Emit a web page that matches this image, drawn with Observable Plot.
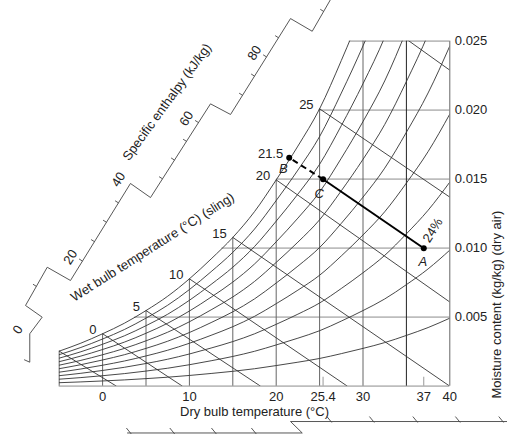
<!DOCTYPE html>
<html><head><meta charset="utf-8">
<script src="https://cdn.jsdelivr.net/npm/d3@7"></script>
<script src="https://cdn.jsdelivr.net/npm/@observablehq/plot@0.6"></script>
<style>body{margin:0;background:#fff;} svg{display:block}</style>
</head><body><div id="chart"></div>
<script>
// Saturation moisture content (kg/kg)
const satT = [-5,-2.5,0,2.5,5,7.5,10,12.5,15,17.5,20,22.5,25,27.5,30,32.5,35,37.5,40];
const satW = [0.00254,0.00312,0.00380,0.00456,0.00548,0.00652,0.00778,0.00922,0.01078,0.01265,0.01495,0.01740,0.02010,0.02360,0.02740,0.03160,0.03680,0.04250,0.04930];
const percentSat = [10,20,30,40,50,60,70,80,90,100];
const dryBulbGrid = [-5,0,5,10,15,20,25,30,35,40];
const moistureGrid = [0,0.005,0.010,0.015,0.020,0.025];
const wetBulb = [-5,0,5,10,15,20,25,30];
const wetBulbEndT = [1.6,9.2,18.2,28.2,40,40,40,40];
const wetBulbEndW = [0,0,0,0,0,0.0061,0.0137,0.0229];
const wetBulbLabels = [0,5,10,15,20,25];
const xTickLabels = [0,10,20,25.4,30,37,40];
const xMarkTicks = [25.4,37];
const yTickLabels = [0.005,0.010,0.015,0.020,0.025];
const stateNames = ["A","C","B"];
const stateT = [37,25.4,21.5];
const stateW = [0.010,0.015,0.01655];
const stateLabel = "21.5";
const percentLabel = "24%";
// Specific enthalpy oblique scale (vertices in chart units, enthalpy at vertices)
const hScaleT = [-9.00,-8.39,-8.39,-6.96,-8.88,-6.38,-3.70,3.21,5.52,12.43,14.74,21.65,24.15,26.26];
const hScaleW = [0.00191,0.00174,0.00380,0.00500,0.00585,0.00862,0.00766,0.01469,0.01367,0.02046,0.01969,0.02664,0.02572,0.02802];
const hScaleH = [null,null,0,5,5,15,15,40,40,65,65,90,90,98];
const hTicks = [10,20,25,30,35,45,50,55,60,70,75,80,85,95];
const hLabels = [0,20,40,60,80];
// Partial scale cut at the bottom edge
const bScaleT = [2.87,23.0,21.65,47.0];
const bScaleW = [-0.00339,-0.00339,-0.00256,-0.00256];
const bTickT = [3.2,8.2,13.0,17.6,26.3,31.2,36.2,41.1,46.1];
const bTickW = [-0.00339,-0.00339,-0.00339,-0.00339,-0.00256,-0.00256,-0.00256,-0.00256,-0.00256];

const ws = new Map(satT.map((t,i)=>[t, satW[i]]));
function tSat(w){
  for (let i=0;i<satT.length-1;i++){
    if (w>=satW[i] && w<=satW[i+1]) return satT[i]+(w-satW[i])/(satW[i+1]-satW[i])*(satT[i+1]-satT[i]);
  }
  return satT[0];
}
const curveData = percentSat.flatMap(p => satT.map((t,i)=>({p, T:t, w:p/100*satW[i]})));
const vData = dryBulbGrid.map(t=>({T:t, w0:0, w1:Math.min(ws.get(t), 0.025)}));
const hData = moistureGrid.map(w=>({w, T0:tSat(w), T1:40}));
const wbData = wetBulb.map((t,i)=>({t, T0:t, w0:ws.get(t), T1:wetBulbEndT[i], w1:wetBulbEndW[i]}));
const states = stateNames.map((n,i)=>({n, T:stateT[i], w:stateW[i]}));
const st = Object.fromEntries(states.map(d=>[d.n,d]));
const hScale = hScaleT.map((t,i)=>({T:t, w:hScaleW[i]}));
function hPos(v){
  for (let i=2;i<hScaleH.length-1;i+=2){
    const h0=hScaleH[i], h1=hScaleH[i+1];
    if (v>=h0 && v<=h1){
      const f=(v-h0)/(h1-h0);
      return {v, T:hScaleT[i]+f*(hScaleT[i+1]-hScaleT[i]), w:hScaleW[i]+f*(hScaleW[i+1]-hScaleW[i])};
    }
  }
}
const hTickData = hTicks.map(hPos);
const hLabelData = hLabels.map(hPos);
const bScale = bScaleT.map((t,i)=>({T:t, w:bScaleW[i]}));
const bTicks = bTickT.map((t,i)=>({T:t, w:bTickW[i]}));

const font = "'Liberation Sans', Arial, Helvetica, sans-serif";
const ink = "#222";
const label = (data, opts) => Plot.text(data, {fontSize: 13, fill: ink, ...opts});

const chart = Plot.plot({
  width: 507, height: 434,
  marginLeft: 58.7, marginRight: 57.7, marginTop: 40.7, marginBottom: 48.3,
  x: {domain: [-5, 40], axis: null},
  y: {domain: [0, 0.025], axis: null},
  style: {fontFamily: font, fontSize: "13px", background: "#fff", overflow: "visible"},
  marks: [
    Plot.ruleY(hData, {y:"w", x1:"T0", x2:"T1", stroke:"#bdbdbd", strokeWidth:1.7}),
    Plot.ruleX(vData.filter(d=>d.T!==35), {x:"T", y1:"w0", y2:"w1", stroke:"#666", strokeWidth:1}),
    Plot.ruleX(vData.filter(d=>d.T===35), {x:"T", y1:"w0", y2:"w1", stroke:"#222", strokeWidth:1}),
    Plot.ruleX(xMarkTicks, {x:d=>d, y1:0, y2:0.00065, stroke:"#999", strokeWidth:1}),
    Plot.line(curveData, {x:"T", y:"w", z:"p", stroke:"#333", strokeWidth:0.9, curve:"monotone-x", clip:true}),
    Plot.link(wbData, {x1:"T0", y1:"w0", x2:"T1", y2:"w1", stroke:"#333", strokeWidth:0.9, clip:true}),
    // process line A -> C (solid), C -> B (dashed)
    Plot.link([{a:st.A, b:st.C}], {x1:d=>d.a.T, y1:d=>d.a.w, x2:d=>d.b.T, y2:d=>d.b.w, stroke:"#000", strokeWidth:2}),
    Plot.link([{a:st.C, b:st.B}], {x1:d=>d.a.T, y1:d=>d.a.w, x2:d=>d.b.T, y2:d=>d.b.w, stroke:"#000", strokeWidth:2, strokeDasharray:"6,4"}),
    Plot.dot(states, {x:"T", y:"w", r:3, fill:"#000"}),
    label([st.A], {x:"T", y:"w", text:"n", dx:-1, dy:14, fontStyle:"italic"}),
    label([st.C], {x:"T", y:"w", text:"n", dx:-4, dy:15, fontStyle:"italic"}),
    label([st.B], {x:"T", y:"w", text:"n", dx:-6, dy:11, fontStyle:"italic"}),
    label([st.B], {x:"T", y:"w", text:()=>stateLabel, textAnchor:"end", dx:-6, dy:-4}),
    label([st.A], {x:"T", y:"w", text:()=>percentLabel, dx:9, dy:-18, rotate:-58}),
    // wet bulb labels at saturation
    label(wetBulbLabels, {x:d=>d, y:d=>ws.get(d), text:d=>String(d), textAnchor:"end", dx:-6, dy:-4}),
    // x tick labels
    label(xTickLabels, {x:d=>d, y:0, text:d=>String(d), dy:11}),
    label(["Dry bulb temperature (°C)"], {frameAnchor:"bottom", lineAnchor:"middle", dy:25.5}),
    // right axis
    label(yTickLabels, {x:40, y:d=>d, text:d=>d3.format(".3f")(d), textAnchor:"start", dx:5}),
    label(["Moisture content (kg/kg) (dry air)"], {frameAnchor:"right", lineAnchor:"middle", dx:47, dy:-3, rotate:-90}),
    // enthalpy scale
    Plot.line(hScale, {x:"T", y:"w", stroke:"#444", strokeWidth:0.9}),
    Plot.link(hTickData, {x1:"T", y1:"w", x2:d=>d.T-0.39, y2:d=>d.w+0.000154, stroke:"#444", strokeWidth:0.9}),
    label(hLabelData, {x:"T", y:"w", text:d=>String(d.v), dx:-12, dy:-4, rotate:-58}),
    label(["Specific enthalpy (kJ/kg)"], {x:7.42, y:0.02059, rotate:-54}),
    label(["Wet bulb temperature (°C) (sling)"], {x:5.75, y:0.01007, rotate:-32.5}),
    // partial scale along the bottom edge
    Plot.line(bScale, {x:"T", y:"w", stroke:"#444", strokeWidth:0.9}),
    Plot.link(bTicks, {x1:d=>d.T-0.46, y1:d=>d.w+0.00036, x2:d=>d.T+0.1, y2:d=>d.w-0.00007, stroke:"#444", strokeWidth:0.9})
  ]
});
document.getElementById("chart").appendChild(chart);
</script>
</body></html>
